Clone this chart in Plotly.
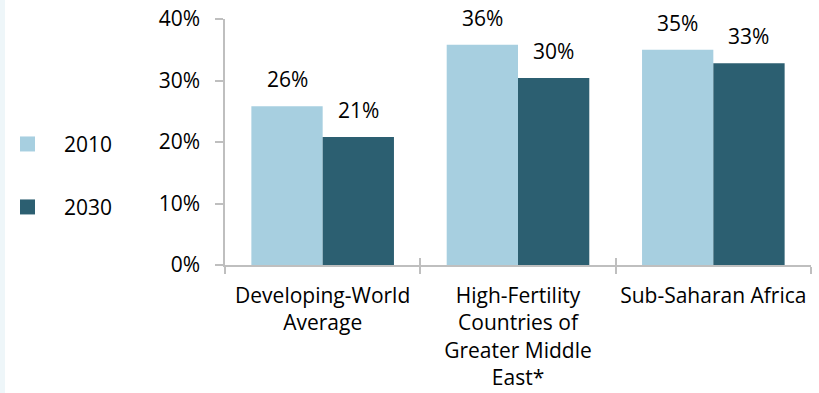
import plotly.graph_objects as go

# Share of population aged 15-29 (percent)
categories = ["Developing-World<br>Average",
              "High-Fertility<br>Countries of<br>Greater Middle<br>East*",
              "Sub-Saharan Africa"]
series_names = ["2010", "2030"]
values_2010 = [25.8, 35.8, 35.0]
values_2030 = [20.8, 30.4, 32.8]
y_ticks = [0, 10, 20, 30, 40]

colors = ["#A7CFE0", "#2C5F71"]
FONT = "Open Sans, Noto Sans, DejaVu Sans, sans-serif"
FS = 21
AXIS_GRAY = "#BFBFBF"
BARGAP = 0.27

fig = go.Figure()
for name, vals, col in zip(series_names, [values_2010, values_2030], colors):
    fig.add_trace(go.Bar(x=categories, y=vals, name=name, marker_color=col,
                         marker_line_width=0, showlegend=False))

# value labels above each bar, positioned on a linear overlay axis
bar_w = (1 - BARGAP) / 2
for k, vals in enumerate([values_2010, values_2030]):
    off = (k - 0.5) * bar_w
    for i, v in enumerate(vals):
        fig.add_annotation(x=i + off, y=v, xref="x2", yref="y",
                           text=f"{v:.0f}%", showarrow=False,
                           yanchor="middle", yshift=27,
                           font=dict(family=FONT, size=FS, color="#000000"))

# legend at left
for k, (name, col) in enumerate(zip(series_names, colors)):
    yc = 0.492 - k * 0.256
    fig.add_shape(type="rect", xref="paper", yref="paper",
                  x0=(20 - 225) / 586, x1=(35 - 225) / 586,
                  y0=yc - 7.5 / 246, y1=yc + 7.5 / 246,
                  fillcolor=col, line_width=0)
    fig.add_annotation(x=(62 - 225) / 586, y=yc, xref="paper", yref="paper",
                       text=name, showarrow=False, xanchor="left",
                       yanchor="middle",
                       font=dict(family=FONT, size=FS, color="#000000"))

# thin pale strip on the left edge
fig.add_shape(type="rect", xref="paper", yref="paper",
              x0=-225 / 586, x1=(5 - 225) / 586, y0=-128 / 246, y1=1 + 19 / 246,
              fillcolor="#EEF6F9", line_width=0, layer="below")

fig.update_layout(
    width=819, height=393,
    margin=dict(l=225, r=8, t=19, b=128, autoexpand=False),
    barmode="group", bargap=BARGAP, bargroupgap=0,
    plot_bgcolor="white", paper_bgcolor="white",
    font=dict(family=FONT, size=FS, color="#000000"),
    xaxis=dict(type="category", showline=True, linecolor=AXIS_GRAY,
               linewidth=1.5, ticks="outside", ticklen=7, tickcolor=AXIS_GRAY,
               tickwidth=1.5, tickson="boundaries", showgrid=False,
               tickangle=0, automargin=False,
               tickfont=dict(family=FONT, size=FS, color="#000000"),
               ticklabelstandoff=11),
    xaxis2=dict(overlaying="x", anchor="y", range=[-0.5, 2.5],
                tickmode="array", tickvals=[-0.5, 0.5, 1.5, 2.5],
                ticks="inside", ticklen=7, tickcolor=AXIS_GRAY, tickwidth=1.5,
                showticklabels=False, showgrid=False, zeroline=False,
                showline=False, side="bottom", automargin=False),
    yaxis=dict(range=[0, 40], tickmode="array", tickvals=y_ticks,
               ticktext=[f"{t}%" for t in y_ticks],
               showline=True, linecolor=AXIS_GRAY, linewidth=1.5,
               ticks="outside", ticklen=8, tickcolor=AXIS_GRAY, tickwidth=1.5,
               showgrid=False, zeroline=False, automargin=False,
               tickfont=dict(family=FONT, size=FS, color="#000000"),
               ticklabelstandoff=11),
)

fig.write_html("out.html")
